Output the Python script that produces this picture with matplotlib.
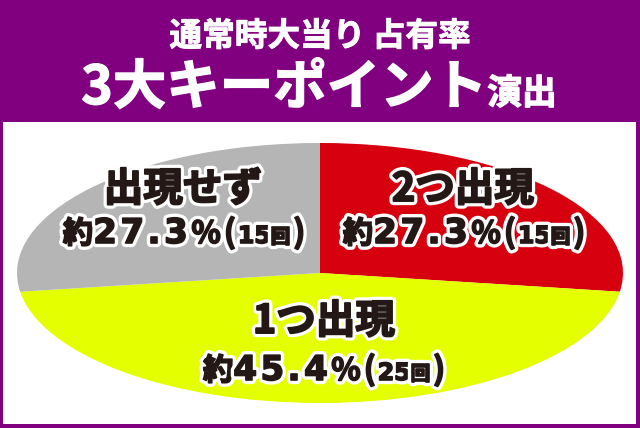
import matplotlib
matplotlib.use('Agg')
import matplotlib.pyplot as plt
import matplotlib.patheffects as pe
from matplotlib.patches import Rectangle
from matplotlib.transforms import IdentityTransform

plt.rcParams['font.family'] = ['Noto Sans CJK JP', 'DejaVu Sans']

# data
labels = ['2つ出現', '1つ出現', '出現せず']
shares = [27.3, 45.4, 27.3]
counts = [15, 25, 15]
colors = ['#d7000f', '#e4ff00', '#b5b5b6']

title1 = '通常時大当り 占有率'
title2_big = '3大キーポイント'
title2_small = '演出'

W, H = 640, 428
PURPLE = '#800080'
INK = '#231815'
CJK = ['Noto Sans CJK JP', 'DejaVu Sans']
NUM = ['DejaVu Sans']

fig = plt.figure(figsize=(W / 100, H / 100), dpi=100, facecolor=PURPLE)
fig.add_artist(Rectangle((3 / W, 4 / H), 633 / W, 302 / H, transform=fig.transFigure,
                         facecolor='white', edgecolor='none', zorder=-1))

# pie, squeezed into an ellipse
ax = fig.add_axes([17 / W, 25 / H, 606 / W, 260 / H])
ax.pie(shares, colors=colors, startangle=90, counterclock=False, radius=1,
       wedgeprops=dict(linewidth=0))
ax.set_aspect('auto')
ax.set_xlim(-1, 1)
ax.set_ylim(-1, 1)
ax.axis('off')

renderer = fig.canvas.get_renderer()


def draw_line(parts, cx, base, color, stroke=None, fat=0.8):
    # parts: (text, size, family, tracking px); laid out on one baseline, centred on cx
    effects = []
    if stroke:
        effects.append(pe.withStroke(linewidth=stroke, foreground='white'))
    effects += [pe.Stroke(linewidth=fat, foreground=color), pe.Normal()]
    texts = []
    x = 0
    for s, size, fam, track in parts:
        for ch in (s if track else [s]):
            t = fig.text(0, 0, ch, fontsize=size, family=fam, weight='bold', color=color,
                         ha='left', va='baseline', transform=IdentityTransform())
            t.set_path_effects(effects)
            w = t.get_window_extent(renderer).width
            texts.append((t, x))
            x += w + track
    x0 = cx - x / 2
    for t, dx in texts:
        t.set_position((x0 + dx, H - base))


# header
draw_line([(title1, 23.5, CJK, 0)], 320, 46, 'white', fat=0.7)
draw_line([(title2_big, 38.5, CJK, 0), (title2_small, 25, CJK, 0)], 319, 104, 'white', fat=1.0)

# slice labels
label_pos = {'出現せず': (183, 201, 184, 243),
             '2つ出現': (463, 201, 464, 243),
             '1つ出現': (324, 333, 324, 380)}
for lab, sh, n in zip(labels, shares, counts):
    cx1, b1, cx2, b2 = label_pos[lab]
    draw_line([(lab, 28.5, CJK, 0)], cx1, b1, INK, stroke=6, fat=1.4)
    draw_line([('約', 22, CJK, 0), (f'{sh:.1f}', 24.5, NUM, 3.5), ('%', 22, CJK, 3),
               ('(', 23, CJK, 2), (str(n), 17, NUM, 0), ('回', 14, CJK, 3), (')', 23, CJK, 0)],
              cx2, b2, INK, stroke=6, fat=1.2)

fig.savefig('out.png', dpi=100, facecolor=PURPLE)
